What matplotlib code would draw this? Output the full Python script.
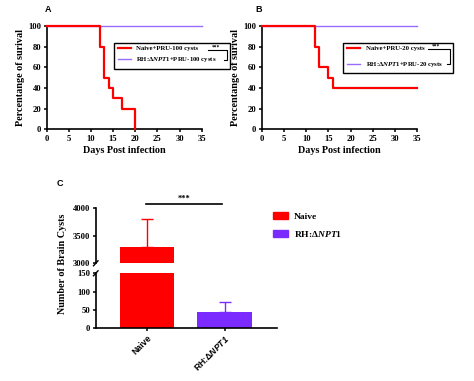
import matplotlib.pyplot as plt
from matplotlib.lines import Line2D
from matplotlib.patches import Rectangle, Patch

plt.rcParams['font.family'] = ['Liberation Serif', 'DejaVu Serif']
plt.rcParams['font.weight'] = 'bold'
plt.rcParams['mathtext.fontset'] = 'custom'
plt.rcParams['mathtext.it'] = 'Liberation Serif:bold:italic'
plt.rcParams['mathtext.rm'] = 'Liberation Serif:bold'
plt.rcParams['mathtext.sf'] = 'Liberation Sans:bold:italic'

# survival data (step functions)
days_a_naive = [0, 12, 13, 14, 15, 17, 20]
surv_a_naive = [100, 80, 50, 40, 30, 20, 0]
days_b_naive = [0, 12, 13, 15, 16, 35]
surv_b_naive = [100, 80, 60, 50, 40, 40]
days_ko = [0, 35]
surv_ko = [100, 100]

# brain cysts
groups = ['Naive', 'RH:Δ$\\mathsf{NPT1}$']
cysts = [3300, 45]
cysts_err = [500, 27]

RED = '#ff0000'
PURPLE_LINE = '#9a6bff'
PURPLE_BAR = '#7b2bff'

W, H = 474, 381
fig = plt.figure(figsize=(W / 100, H / 100), dpi=100)


def fx(x):
    return x / W


def fy(y):
    return 1 - y / H


def style(ax, fs=6.2):
    for s in ['top', 'right']:
        ax.spines[s].set_visible(False)
    for s in ['left', 'bottom']:
        ax.spines[s].set_linewidth(1.2)
    ax.tick_params(direction='out', length=2.5, width=1.1, labelsize=fs, pad=1.5)
    for lbl in ax.get_xticklabels() + ax.get_yticklabels():
        lbl.set_fontweight('bold')


def survival(rect, dn, sn, label_n, label_k):
    ax = fig.add_axes(rect)
    ax.step(days_ko, surv_ko, where='post', color=PURPLE_LINE, lw=1.0, clip_on=False,
            label=label_k, zorder=3)
    ax.step(dn, sn, where='post', color=RED, lw=1.6, clip_on=False, label=label_n, zorder=4)
    ax.set_xlim(0, 35)
    ax.set_ylim(0, 100)
    ax.set_xticks(range(0, 36, 5))
    ax.set_yticks(range(0, 101, 20))
    style(ax)
    ax.set_xlabel('Days Post infection', fontsize=7.3, fontweight='bold', labelpad=2)
    ax.set_ylabel('Percentange of surival', fontsize=7.3, fontweight='bold', labelpad=2)
    return ax


# panel A
axA = survival([fx(46.7), fy(129.3), fx(155), (129.3 - 26) / H],
               days_a_naive, surv_a_naive,
               'Naive+PRU-100 cysts', 'RH:Δ$\\mathit{NPT1}$+PRU-100 cysts')
# panel B
axB = survival([fx(261.7), fy(129.3), fx(155.6), (129.3 - 26) / H],
               days_b_naive, surv_b_naive,
               'Naive+PRU-20 cysts', 'RH:Δ$\\mathit{NPT1}$+PRU-20 cysts')


def legend_box(ax, x0, x1, y0, y1, ya, yb, xl, xr, spacing):
    h, l = ax.get_legend_handles_labels()
    h, l = [h[1], h[0]], [l[1], l[0]]
    ax.legend(h, l, loc='upper left', bbox_to_anchor=(fx(x0 + 4), fy(y0 + 3)),
              bbox_transform=fig.transFigure, frameon=False,
              prop={'size': 4.9, 'weight': 'bold'},
              handlelength=1.9, handletextpad=0.8, borderpad=0, borderaxespad=0,
              labelspacing=spacing)
    fig.add_artist(Rectangle((fx(x0), fy(y1)), fx(x1 - x0), (y1 - y0) / H,
                             fill=False, lw=1.0, edgecolor='black'))
    fig.add_artist(Line2D([fx(xl), fx(xr), fx(xr), fx(xr - 3)],
                          [fy(ya), fy(ya), fy(yb), fy(yb)], lw=0.8, color='black'))
    fig.text(fx(xl + 8), fy(ya - 0.5), '***', fontsize=4, ha='center', va='bottom')


legend_box(axA, 114, 230, 42.7, 69.3, 50, 60, 208, 226.5, 0.55)
legend_box(axB, 343.3, 453, 42.7, 72.7, 49, 64, 428, 450, 1.3)

fig.text(fx(48), fy(10), 'A', fontsize=6.5, family='Liberation Sans', fontweight='bold',
         ha='center', va='center')
fig.text(fx(259), fy(10), 'B', fontsize=6.5, family='Liberation Sans', fontweight='bold',
         ha='center', va='center')
fig.text(fx(60), fy(183), 'C', fontsize=6.5, family='Liberation Sans', fontweight='bold',
         ha='center', va='center')

# panel C (broken axis)
left_c, width_c = fx(95.7), fx(181)
ax_top = fig.add_axes([left_c, fy(263.3), width_c, 55 / H])
ax_bot = fig.add_axes([left_c, fy(328), width_c, 54.7 / H])
xpos = [0, 1]
bar_colors = [RED, PURPLE_BAR]
for ax, lim in [(ax_top, (3000, 4000)), (ax_bot, (0, 150))]:
    ax.bar(xpos, cysts, width=0.7, color=bar_colors, zorder=2)
    for xp, v, e, c in zip(xpos, cysts, cysts_err, bar_colors):
        ax.errorbar([xp], [v], yerr=[[0], [e]], fmt='none', ecolor=c,
                    elinewidth=1.0, capsize=4.5, capthick=1.0, zorder=1)
    ax.set_ylim(*lim)
    ax.set_xlim(-0.66, 1.67)

ax_top.set_yticks([3000, 3500, 4000])
ax_bot.set_yticks([0, 50, 100, 150])
ax_bot.set_xticks(xpos)
ax_bot.set_xticklabels(groups, rotation=45, ha='right', rotation_mode='anchor',
                       fontsize=6.3, family='Liberation Sans', fontweight='bold')
style(ax_top)
style(ax_bot)
ax_top.spines['bottom'].set_visible(False)
ax_top.tick_params(axis='x', bottom=False, labelbottom=False)
for lbl in ax_bot.get_xticklabels():
    lbl.set_fontsize(6.3)
    lbl.set_family('Liberation Sans')

# break marks
for yb in [263.3, 273.3]:
    fig.add_artist(Line2D([fx(93.5), fx(98)], [fy(yb + 2.5), fy(yb - 2.5)], lw=1.0, color='black'))

fig.text(fx(63), fy(264), 'Number of Brain Cysts', rotation=90, fontsize=7.3,
         fontweight='bold', ha='center', va='center')

# significance line
fig.add_artist(Line2D([fx(146), fx(222)], [fy(204), fy(204)], lw=1.2, color='black'))
fig.text(fx(184), fy(203), '***', fontsize=6, fontweight='bold', ha='center', va='bottom')

# legend C
ax_bot.legend([Patch(color=RED), Patch(color=PURPLE_BAR)], ['Naive', 'RH:Δ$\\mathit{NPT1}$'],
              loc='upper left', bbox_to_anchor=(fx(273), fy(212)),
              bbox_transform=fig.transFigure, frameon=False,
              prop={'size': 6.8, 'weight': 'bold'},
              handlelength=1.6, handleheight=0.8, handletextpad=0.6,
              borderpad=0, borderaxespad=0, labelspacing=0.85)

fig.savefig('out.png', dpi=100)
